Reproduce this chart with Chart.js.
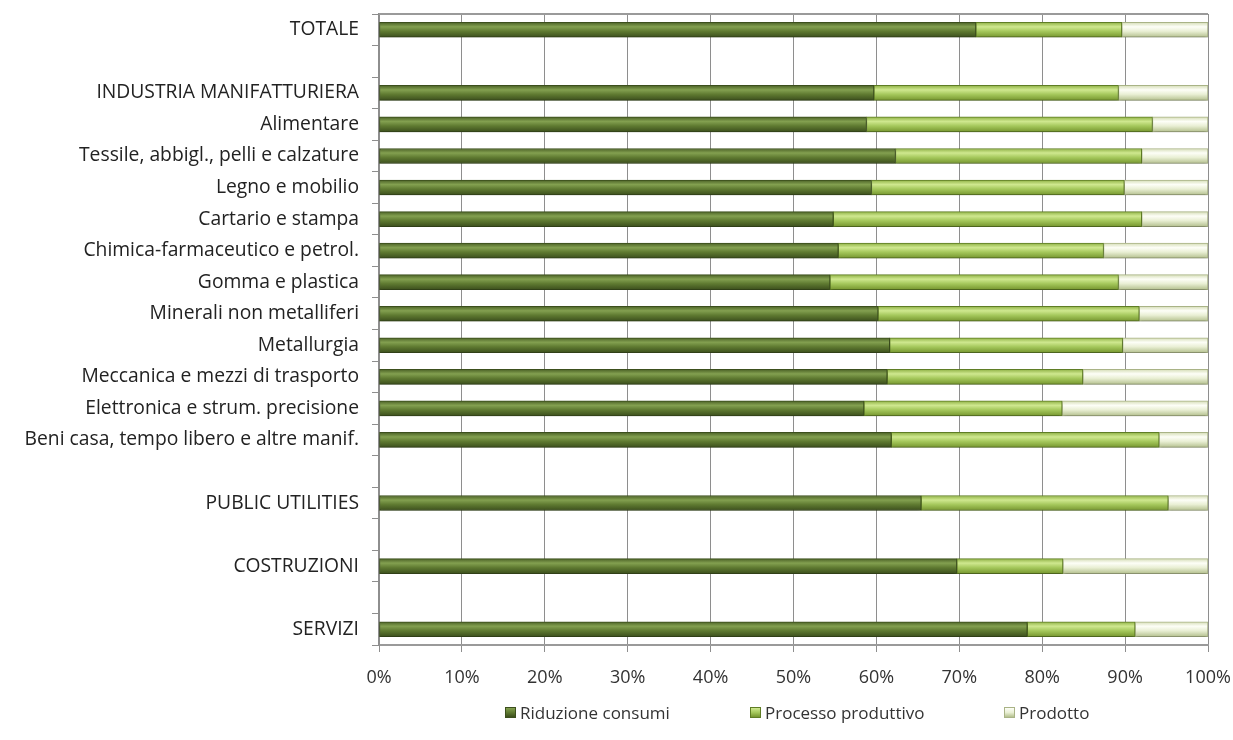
<!DOCTYPE html>
<html>
<head>
<meta charset="utf-8">
<script src="https://cdn.jsdelivr.net/npm/chart.js@4.4.1/dist/chart.umd.min.js"></script>
<style>
  html, body { margin: 0; padding: 0; background: #ffffff; }
  #wrap { position: relative; width: 1233px; height: 740px; }
  #legend { position: absolute; top: 700px; left: 0; width: 1233px; height: 24px; font-family: "Open Sans", sans-serif; font-size: 17px; color: #333; }
  .item { position: absolute; top: 0; display: flex; align-items: center; height: 24px; }
  .box { width: 9px; height: 9px; margin-right: 4px; border: 1px solid #6a7a4a; }
</style>
</head>
<body>
<div id="wrap">
  <canvas id="c" width="1233" height="740"></canvas>
  <div id="legend"></div>
</div>
<script>
const categories = [
  "TOTALE", "",
  "INDUSTRIA MANIFATTURIERA", "Alimentare", "Tessile, abbigl., pelli e calzature",
  "Legno e mobilio", "Cartario e stampa", "Chimica-farmaceutico e petrol.",
  "Gomma e plastica", "Minerali non metalliferi", "Metallurgia",
  "Meccanica e mezzi di trasporto", "Elettronica e strum. precisione",
  "Beni casa, tempo libero e altre manif.", "",
  "PUBLIC UTILITIES", "",
  "COSTRUZIONI", "",
  "SERVIZI"
];
const seriesNames = ["Riduzione consumi", "Processo produttivo", "Prodotto"];
const riduzioneConsumi = [72.0, null, 59.7, 58.8, 62.3, 59.4, 54.8, 55.4, 54.4, 60.2, 61.6, 61.3, 58.5, 61.8, null, 65.4, null, 69.7, null, 78.2];
const processoProduttivo = [17.6, null, 29.5, 34.5, 29.7, 30.5, 37.2, 32.0, 34.8, 31.5, 28.1, 23.6, 23.9, 32.3, null, 29.8, null, 12.8, null, 13.0];
const prodotto = [10.4, null, 10.8, 6.7, 8.0, 10.1, 8.0, 12.6, 10.8, 8.3, 10.3, 15.1, 17.6, 5.9, null, 4.8, null, 17.5, null, 8.8];
const xTickValues = [0, 10, 20, 30, 40, 50, 60, 70, 80, 90, 100];

// gradient stops per series: [top, highlight, middle, bottom]
const seriesShades = [
  ["#4b6126", "#83a050", "#5f7a31", "#3c4f1d"],
  ["#8fb145", "#cfe88f", "#a5c85c", "#76962f"],
  ["#d5ddb6", "#fdfef7", "#e9efd4", "#b4c08e"]
];
const seriesBorders = ["#3c4f1d", "#5f7d25", "#a9b386"];

const BAR_H = 15;
function makeBg(si) {
  return function(ctx) {
    const chart = ctx.chart;
    const ys = chart.scales && chart.scales.y;
    if (!chart.chartArea || !ys || ctx.dataIndex === undefined) return seriesShades[si][2];
    const yc = ys.getPixelForValue(ctx.dataIndex);
    const g = chart.ctx.createLinearGradient(0, yc - BAR_H / 2, 0, yc + BAR_H / 2);
    const s = seriesShades[si];
    g.addColorStop(0, s[0]);
    g.addColorStop(0.3, s[1]);
    g.addColorStop(0.6, s[2]);
    g.addColorStop(1, s[3]);
    return g;
  };
}

const seriesData = [riduzioneConsumi, processoProduttivo, prodotto];
const datasets = seriesData.map((d, i) => ({
  label: seriesNames[i],
  data: d,
  backgroundColor: makeBg(i),
  borderColor: seriesBorders[i],
  borderWidth: 1,
  borderSkipped: false,
  barThickness: BAR_H
}));

const plotFrame = {
  id: 'plotFrame',
  beforeDatasetsDraw(chart) {
    const { ctx, chartArea: a } = chart;
    ctx.save();
    ctx.strokeStyle = '#9a9a9a';
    ctx.lineWidth = 2;
    ctx.beginPath();
    ctx.moveTo(a.left, a.top);
    ctx.lineTo(a.right, a.top);
    ctx.stroke();
    ctx.restore();
    // soft drop shadow under the bars
    ctx.save();
    ctx.shadowColor = 'rgba(0,0,0,0.22)';
    ctx.shadowBlur = 3;
    ctx.shadowOffsetY = 3;
  },
  afterDatasetsDraw(chart) {
    chart.ctx.restore();
  }
};

const YFONT = { family: '"Open Sans", sans-serif', size: 19.3 };
const XFONT = { family: '"Open Sans", sans-serif', size: 18 };

new Chart(document.getElementById('c'), {
  type: 'bar',
  data: { labels: categories, datasets },
  options: {
    indexAxis: 'y',
    responsive: false,
    animation: false,
    layout: { padding: { top: 14, right: 25, left: 0, bottom: 0 } },
    plugins: {
      legend: { display: false },
      tooltip: { enabled: false }
    },
    scales: {
      x: {
        stacked: true,
        min: 0, max: 100,
        afterBuildTicks(scale) { scale.ticks = xTickValues.map(v => ({ value: v })); },
        ticks: { callback: v => v + '%', color: '#333', font: XFONT, padding: 15, maxRotation: 0 },
        grid: { color: '#8e8e8e', lineWidth: 1, tickLength: 7, tickColor: '#8e8e8e' },
        border: { color: '#9a9a9a', width: 2 },
        afterFit(scale) { scale.height = 95; scale.paddingLeft = 0; scale.paddingRight = 0; }
      },
      y: {
        stacked: true,
        ticks: { color: '#222', font: YFONT, padding: 13, autoSkip: false },
        grid: { drawOnChartArea: false, drawTicks: true, tickLength: 7, color: '#8e8e8e', offset: true },
        border: { color: '#8e8e8e', width: 2 },
        afterFit(scale) { scale.width = 379; scale.paddingTop = 0; scale.paddingBottom = 0; }
      }
    }
  },
  plugins: [plotFrame]
});

// HTML legend (real text)
const legendPos = [505, 750, 1004];
const legendEl = document.getElementById('legend');
seriesNames.forEach((n, i) => {
  const it = document.createElement('div');
  it.className = 'item';
  it.style.left = legendPos[i] + 'px';
  const b = document.createElement('span');
  b.className = 'box';
  const s = seriesShades[i];
  b.style.background = 'linear-gradient(to bottom,' + s[1] + ',' + s[2] + ',' + s[3] + ')';
  b.style.borderColor = seriesBorders[i];
  const t = document.createElement('span');
  t.textContent = n;
  it.appendChild(b); it.appendChild(t);
  legendEl.appendChild(it);
});
</script>
</body>
</html>
